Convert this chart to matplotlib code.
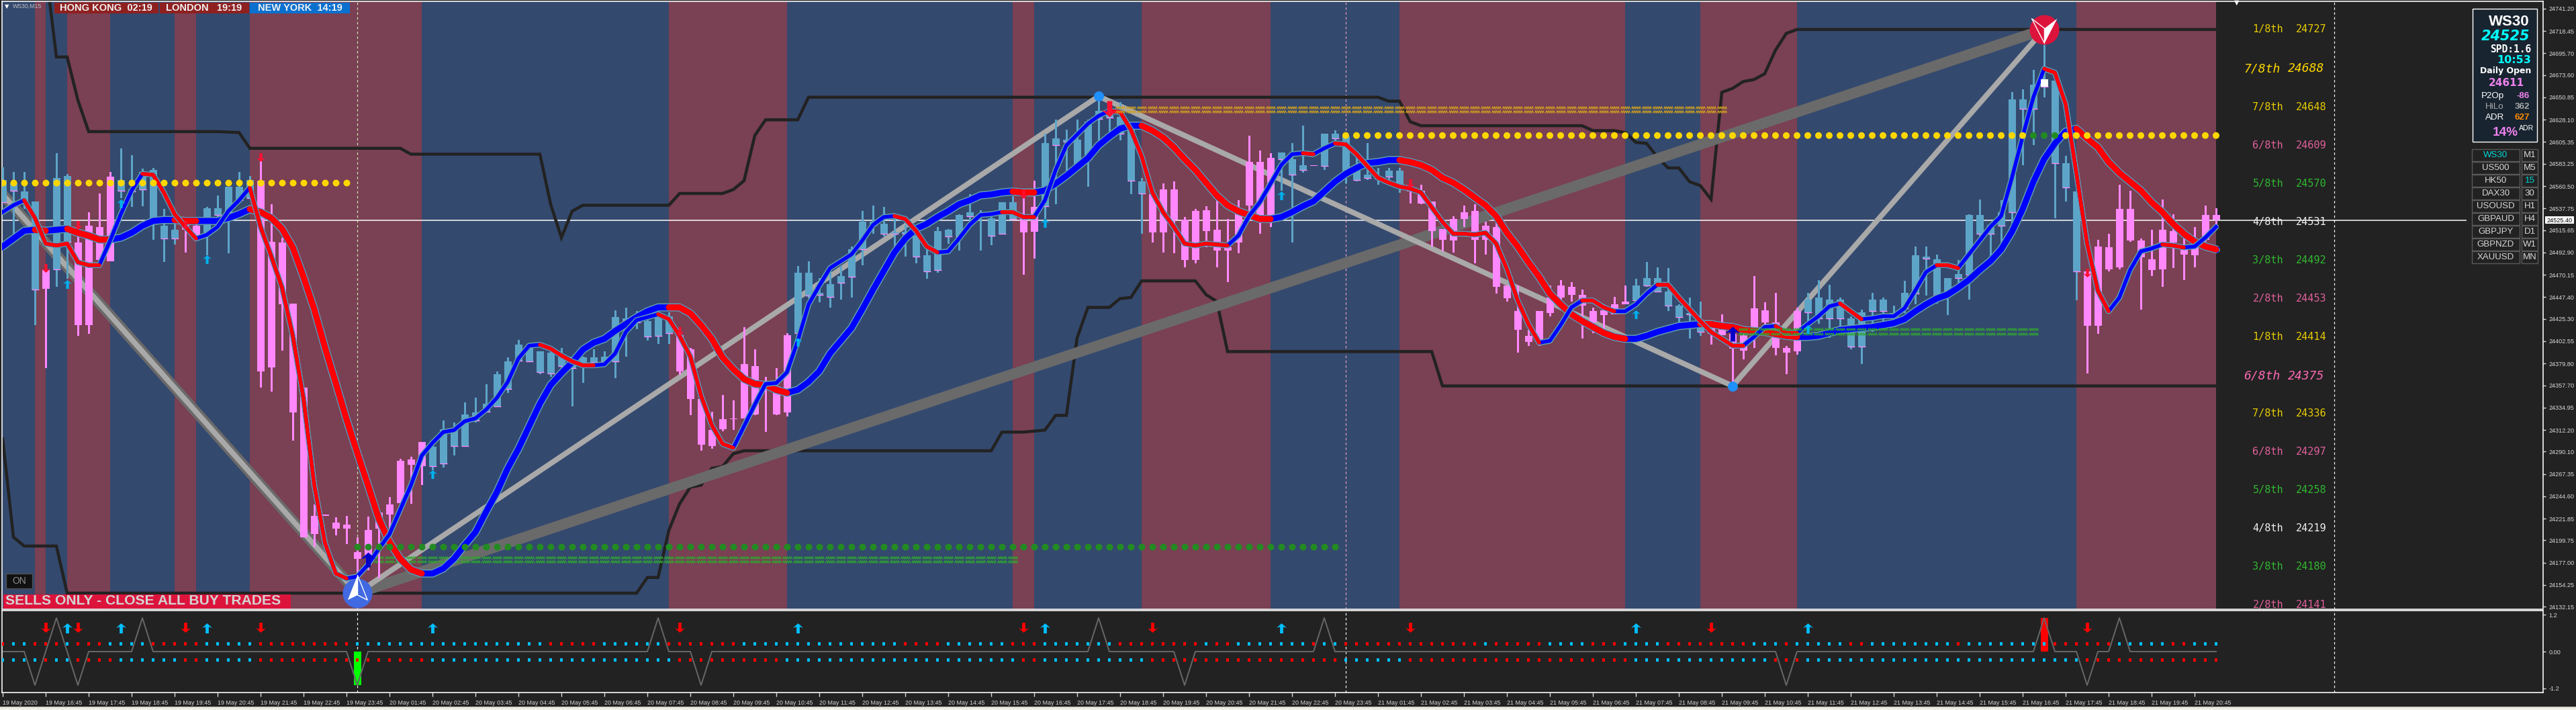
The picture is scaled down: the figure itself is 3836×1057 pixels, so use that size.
"""
WS30 M15 terminal screenshot rebuilt with matplotlib
Main pane: sessions, candles, MAs, zigzags, Murray levels. Sub pane: signal dots and zigzag
"""
import matplotlib
matplotlib.use('Agg')
import numpy as np
import matplotlib.pyplot as plt
from matplotlib.patches import Rectangle
from matplotlib.path import Path

#? Candles, one value per bar
candle_high = [
    24580, 24575, 24575, 24545, 24481, 24594, 24573, 24519, 24534, 24553,
    24575, 24599, 24592, 24578, 24579, 24537, 24523, 24523, 24521, 24539,
    24551, 24560, 24575, 24571, 24588, 24542, 24508, 24441, 24355, 24236,
    24226, 24223, 24225, 24203, 24224, 24229, 24244, 24283, 24285, 24300,
    24296, 24322, 24320, 24340, 24345, 24359, 24372, 24386, 24404, 24396,
    24392, 24397, 24396, 24387, 24387, 24394, 24392, 24434, 24437, 24433,
    24426, 24430, 24432, 24415, 24396, 24344, 24331, 24348, 24342, 24417,
    24394, 24366, 24375, 24411, 24479, 24484, 24467, 24480, 24479, 24499,
    24535, 24541, 24539, 24528, 24521, 24510, 24498, 24519, 24517, 24532,
    24552, 24536, 24529, 24544, 24550, 24551, 24566, 24614, 24628, 24618,
    24628, 24628, 24648, 24637, 24646, 24625, 24569, 24554, 24563, 24565,
    24529, 24537, 24540, 24554, 24527, 24546, 24612, 24597, 24594, 24595,
    24604, 24622, 24582, 24614, 24617, 24614, 24591, 24604, 24579, 24579,
    24579, 24566, 24562, 24545, 24517, 24530, 24541, 24542, 24524, 24523,
    24459, 24459, 24414, 24433, 24459, 24465, 24463, 24455, 24437, 24440,
    24448, 24459, 24466, 24483, 24478, 24477, 24440, 24447, 24443, 24422,
    24430, 24417, 24413, 24469, 24442, 24452, 24398, 24437, 24452, 24465,
    24460, 24447, 24428, 24435, 24452, 24447, 24439, 24464, 24499, 24499,
    24491, 24467, 24485, 24532, 24547, 24521, 24546, 24656, 24659, 24679,
    24719, 24668, 24591, 24555, 24474, 24506, 24512, 24562, 24556, 24507,
    24516, 24547, 24532, 24511, 24519, 24541, 24538]
candle_low = [
    24544, 24511, 24537, 24419, 24375, 24458, 24466, 24408, 24410, 24485,
    24484, 24548, 24539, 24540, 24506, 24483, 24501, 24493, 24510, 24490,
    24528, 24492, 24546, 24548, 24355, 24351, 24393, 24301, 24203, 24193,
    24225, 24205, 24196, 24160, 24169, 24161, 24208, 24238, 24237, 24256,
    24271, 24274, 24286, 24295, 24320, 24331, 24336, 24350, 24381, 24382,
    24369, 24366, 24375, 24336, 24360, 24377, 24377, 24365, 24387, 24415,
    24403, 24400, 24400, 24368, 24327, 24291, 24293, 24311, 24312, 24324,
    24327, 24310, 24327, 24326, 24408, 24446, 24442, 24437, 24445, 24447,
    24480, 24512, 24509, 24499, 24489, 24482, 24466, 24472, 24502, 24495,
    24520, 24495, 24500, 24512, 24527, 24470, 24487, 24527, 24542, 24576,
    24581, 24560, 24604, 24613, 24607, 24552, 24512, 24503, 24493, 24492,
    24478, 24482, 24498, 24478, 24463, 24492, 24535, 24512, 24519, 24556,
    24503, 24574, 24581, 24577, 24602, 24563, 24565, 24567, 24562, 24567,
    24554, 24543, 24542, 24499, 24494, 24493, 24519, 24482, 24491, 24451,
    24443, 24391, 24398, 24398, 24428, 24443, 24443, 24405, 24411, 24407,
    24430, 24440, 24439, 24458, 24453, 24433, 24422, 24405, 24408, 24399,
    24409, 24357, 24384, 24396, 24417, 24388, 24369, 24389, 24418, 24420,
    24406, 24417, 24394, 24379, 24412, 24417, 24417, 24431, 24440, 24449,
    24441, 24429, 24461, 24445, 24505, 24489, 24498, 24517, 24582, 24602,
    24651, 24528, 24545, 24444, 24370, 24410, 24474, 24476, 24504, 24435,
    24469, 24458, 24477, 24465, 24478, 24504, 24519]
candle_open = [
    24544, 24556, 24543, 24455, 24475, 24476, 24504, 24503, 24520, 24519,
    24570, 24556, 24555, 24557, 24527, 24507, 24507, 24522, 24520, 24511,
    24531, 24530, 24546, 24548, 24566, 24504, 24503, 24441, 24355, 24225,
    24226, 24218, 24216, 24188, 24210, 24228, 24236, 24281, 24282, 24300,
    24275, 24278, 24296, 24296, 24322, 24331, 24336, 24354, 24383, 24382,
    24371, 24370, 24377, 24375, 24377, 24381, 24382, 24382, 24424, 24422,
    24407, 24408, 24411, 24409, 24394, 24344, 24312, 24323, 24324, 24379,
    24377, 24360, 24357, 24409, 24411, 24449, 24450, 24448, 24462, 24468,
    24496, 24521, 24512, 24512, 24512, 24489, 24474, 24475, 24509, 24509,
    24530, 24531, 24510, 24512, 24527, 24527, 24539, 24540, 24602, 24606,
    24581, 24588, 24629, 24630, 24614, 24566, 24553, 24552, 24557, 24557,
    24526, 24535, 24536, 24516, 24498, 24534, 24585, 24585, 24589, 24588,
    24572, 24577, 24582, 24581, 24609, 24574, 24567, 24569, 24568, 24570,
    24559, 24556, 24556, 24545, 24517, 24527, 24534, 24535, 24520, 24519,
    24459, 24433, 24408, 24433, 24447, 24459, 24458, 24450, 24433, 24434,
    24440, 24443, 24444, 24459, 24453, 24439, 24427, 24430, 24412, 24417,
    24417, 24410, 24409, 24436, 24434, 24422, 24396, 24433, 24432, 24426,
    24426, 24426, 24397, 24397, 24433, 24433, 24428, 24436, 24451, 24487,
    24450, 24451, 24467, 24470, 24512, 24512, 24520, 24534, 24639, 24639,
    24662, 24584, 24559, 24474, 24474, 24499, 24498, 24537, 24537, 24505,
    24486, 24516, 24515, 24500, 24500, 24531, 24531]
candle_close = [
    24567, 24563, 24555, 24545, 24456, 24569, 24571, 24419, 24419, 24485,
    24484, 24567, 24557, 24575, 24577, 24520, 24516, 24516, 24510, 24538,
    24538, 24560, 24560, 24567, 24372, 24376, 24440, 24330, 24203, 24206,
    24225, 24212, 24212, 24181, 24184, 24212, 24226, 24238, 24277, 24275,
    24295, 24313, 24313, 24328, 24330, 24339, 24369, 24382, 24399, 24396,
    24392, 24391, 24387, 24387, 24386, 24386, 24387, 24427, 24426, 24423,
    24423, 24427, 24428, 24372, 24344, 24297, 24296, 24313, 24323, 24324,
    24328, 24357, 24328, 24330, 24472, 24472, 24452, 24461, 24469, 24496,
    24524, 24524, 24522, 24513, 24514, 24510, 24490, 24515, 24516, 24531,
    24534, 24532, 24528, 24544, 24544, 24513, 24514, 24604, 24609, 24608,
    24608, 24626, 24637, 24634, 24631, 24623, 24565, 24513, 24513, 24526,
    24485, 24485, 24515, 24495, 24495, 24503, 24541, 24530, 24525, 24595,
    24588, 24582, 24581, 24614, 24614, 24611, 24579, 24572, 24569, 24576,
    24576, 24555, 24543, 24515, 24506, 24505, 24527, 24506, 24506, 24458,
    24446, 24414, 24402, 24402, 24431, 24447, 24450, 24439, 24422, 24429,
    24430, 24440, 24459, 24467, 24467, 24453, 24439, 24431, 24420, 24410,
    24409, 24395, 24393, 24416, 24422, 24396, 24391, 24392, 24445, 24447,
    24445, 24445, 24426, 24432, 24445, 24445, 24431, 24452, 24490, 24489,
    24486, 24467, 24471, 24531, 24531, 24521, 24534, 24649, 24649, 24664,
    24669, 24668, 24584, 24555, 24418, 24418, 24476, 24478, 24505, 24488,
    24475, 24476, 24503, 24491, 24490, 24506, 24526]

#? Moving averages, one value per bar
fast_ma = [
    24534, 24541, 24546, 24528, 24502, 24500, 24502, 24483, 24480, 24480,
    24505, 24532, 24556, 24573, 24572, 24554, 24532, 24519, 24507, 24511,
    24519, 24535, 24546, 24559, 24519, 24489, 24457, 24408, 24344, 24256,
    24197, 24166, 24161, 24163, 24175, 24191, 24206, 24231, 24256, 24286,
    24299, 24310, 24312, 24321, 24324, 24333, 24345, 24361, 24385, 24398,
    24399, 24395, 24388, 24382, 24378, 24378, 24379, 24390, 24412, 24424,
    24427, 24430, 24425, 24408, 24387, 24347, 24317, 24298, 24294, 24316,
    24338, 24359, 24360, 24371, 24403, 24440, 24459, 24477, 24484, 24491,
    24505, 24521, 24529, 24530, 24527, 24515, 24499, 24493, 24494, 24507,
    24521, 24531, 24532, 24534, 24534, 24529, 24529, 24546, 24577, 24602,
    24613, 24624, 24632, 24637, 24636, 24618, 24591, 24554, 24534, 24519,
    24502, 24500, 24502, 24501, 24500, 24510, 24530, 24544, 24563, 24582,
    24593, 24594, 24593, 24599, 24604, 24603, 24593, 24581, 24569, 24564,
    24560, 24558, 24554, 24539, 24524, 24512, 24512, 24511, 24513, 24502,
    24476, 24444, 24420, 24401, 24403, 24419, 24437, 24444, 24444, 24437,
    24433, 24433, 24440, 24451, 24460, 24460, 24447, 24435, 24423, 24412,
    24405, 24398, 24398, 24407, 24417, 24418, 24411, 24411, 24420, 24428,
    24438, 24441, 24433, 24425, 24426, 24428, 24428, 24436, 24454, 24473,
    24480, 24480, 24477, 24491, 24505, 24519, 24530, 24569, 24611, 24651,
    24680, 24676, 24644, 24574, 24502, 24454, 24433, 24447, 24475, 24494,
    24497, 24501, 24500, 24498, 24499, 24508, 24519]
slow_ma = [
    24499, 24507, 24515, 24516, 24515, 24516, 24517, 24513, 24510, 24506,
    24506, 24508, 24513, 24520, 24525, 24526, 24526, 24525, 24525, 24525,
    24525, 24528, 24532, 24537, 24534, 24528, 24517, 24498, 24468, 24435,
    24396, 24360, 24323, 24289, 24256, 24222, 24198, 24181, 24170, 24166,
    24166, 24171, 24181, 24195, 24208, 24229, 24249, 24273, 24293, 24316,
    24339, 24358, 24370, 24381, 24394, 24401, 24405, 24413, 24420, 24427,
    24433, 24437, 24437, 24437, 24431, 24419, 24405, 24386, 24374, 24364,
    24359, 24358, 24353, 24350, 24353, 24361, 24372, 24390, 24403, 24416,
    24435, 24455, 24474, 24493, 24507, 24517, 24522, 24529, 24535, 24542,
    24546, 24551, 24552, 24554, 24555, 24554, 24554, 24556, 24563, 24571,
    24580, 24589, 24602, 24611, 24619, 24622, 24622, 24617, 24610, 24600,
    24588, 24577, 24564, 24551, 24541, 24535, 24531, 24527, 24527, 24529,
    24534, 24540, 24545, 24555, 24565, 24573, 24579, 24584, 24585, 24587,
    24587, 24585, 24582, 24577, 24569, 24564, 24557, 24549, 24541, 24530,
    24513, 24499, 24483, 24468, 24451, 24440, 24430, 24423, 24417, 24411,
    24407, 24405, 24405, 24408, 24412, 24415, 24418, 24419, 24420, 24420,
    24418, 24417, 24414, 24413, 24412, 24410, 24408, 24407, 24407, 24408,
    24411, 24414, 24415, 24416, 24417, 24419, 24421, 24425, 24433, 24440,
    24446, 24450, 24457, 24465, 24475, 24484, 24496, 24514, 24537, 24565,
    24588, 24604, 24616, 24619, 24609, 24600, 24585, 24574, 24565, 24556,
    24544, 24534, 24522, 24512, 24504, 24499, 24496]

# stretches (first bar, last bar) drawn red, the rest of each line is blue
session_red = [(3, 4), (6, 10), (16, 18), (23, 39), (62, 73), (94, 96), (106, 118),
               (130, 151), (158, 167), (193, 206)]
fast_red = [(2, 9), (13, 18), (23, 32), (50, 55), (61, 68), (83, 87), (93, 96), (103, 114),
            (121, 122), (124, 143), (147, 150), (154, 162), (165, 167), (171, 173),
            (180, 182), (190, 196), (201, 203)]

#? Channel lines, only the bars where they bend
upper_x = [4, 5, 6, 7, 8, 20, 22, 23, 37, 38, 50, 51, 52, 53, 54, 62, 63, 67, 68, 69, 70, 71, 74, 75,
           128, 129, 130, 131, 132, 147, 148, 150, 151, 152, 153, 154, 155, 156, 157, 158, 159,
           160, 161, 162, 163, 164, 165, 166, 167, 206]
upper_y = [24782, 24692, 24692, 24648, 24616, 24616, 24615, 24599, 24599, 24593, 24593, 24542, 24508,
           24535, 24541, 24541, 24553, 24553, 24557, 24566, 24612, 24628, 24628, 24651,
           24651, 24647, 24647, 24626, 24622, 24622, 24617, 24617, 24615, 24605, 24604, 24590, 24579,
           24579, 24565, 24561, 24547, 24656, 24660, 24667, 24669, 24675, 24699, 24716, 24720, 24720]
lower_x = [0, 1, 2, 5, 6, 59, 60, 61, 62, 63, 64, 65, 66, 67, 68, 69, 92, 93, 95, 96, 97, 98, 99, 100,
           101, 103, 104, 105, 106, 111, 112, 113, 114, 133, 134, 206]
lower_y = [24303, 24203, 24194, 24194, 24146, 24146, 24162, 24162, 24210, 24237, 24254, 24256, 24273,
           24275, 24288, 24291, 24291, 24310, 24310, 24311, 24312, 24327, 24327, 24406,
           24437, 24437, 24446, 24447, 24464, 24464, 24450, 24443, 24392, 24392, 24357, 24357]

#? Zigzags
big_zz_x = [0, 33, 190]
big_zz_y = [24552, 24146, 24720]
small_zz_x = [0, 33, 102, 161, 190]
small_zz_y = [24552, 24146, 24652, 24357, 24720]

#? Signal arrows on the candles
up_x = [6, 11, 19, 40, 74, 97, 119, 152, 168]
up_y = [24461, 24543, 24486, 24267, 24402, 24523, 24551, 24430, 24415]
down_x = [4, 7, 17, 24, 63, 95, 131, 194]
down_y = [24477, 24521, 24521, 24590, 24413, 24552, 24563, 24472]
big_up_x = [34, 161]
big_up_y = [24180, 24410]
big_down_x = [103]
big_down_y = [24639]

#? Dotted pivots and wavy levels
yellow_level_1 = 24564
yellow_level_2 = 24612
green_level = 24193
orange_waves = [24640.5, 24636.5]
green_waves_1 = [24182.5, 24178]
green_waves_2 = [24414.5, 24410]
current_price = 24525.40

#? Murray levels, right side of the chart
murray_value = [24727, 24688, 24648, 24609, 24570, 24531, 24492, 24453,
                24414, 24375, 24336, 24297, 24258, 24219, 24180, 24141]
murray_name = ['1/8th', '7/8th', '7/8th', '6/8th', '5/8th', '4/8th', '3/8th', '2/8th',
               '1/8th', '6/8th', '7/8th', '6/8th', '5/8th', '4/8th', '3/8th', '2/8th']
murray_color = ['#e8cc00', '#ffd700', '#e8cc00', '#e0609c', '#30b830', '#f0f0f0', '#30b830', '#e0609c',
                '#e8cc00', '#ff69b4', '#e8cc00', '#e0609c', '#30b830', '#f0f0f0', '#30b830', '#e0609c']

#? Axis labels
price_ticks = [24741.20, 24718.45, 24695.70, 24673.60, 24650.85, 24628.10, 24605.35, 24583.25,
               24560.50, 24537.75, 24515.65, 24492.90, 24470.15, 24447.40, 24425.30, 24402.55,
               24379.80, 24357.70, 24334.95, 24312.20, 24290.10, 24267.35, 24244.60, 24221.85,
               24199.75, 24177.00, 24154.25, 24132.15]
time_labels = (['19 May 2020'] + [f'19 May {h}:45' for h in range(16, 24)]
               + [f'20 May {h:02d}:45' for h in range(1, 24)]
               + [f'21 May {h:02d}:45' for h in range(1, 21)])
day_separators = [33, 125, 217]
separator_colors = ['#c8f0b0', '#e8a0c0', '#ffffff']

#? Sub window
top_dot_red = [(0, 0), (3, 5), (7, 9), (14, 18), (24, 32), (51, 55), (62, 68), (84, 87), (94, 96),
               (104, 111), (113, 114), (122, 122), (125, 137), (139, 143), (148, 150), (155, 162),
               (166, 166), (172, 173), (182, 182), (191, 196), (202, 203)]
low_dot_red = [(4, 4), (7, 10), (17, 18), (24, 39), (63, 72), (95, 96), (107, 124), (131, 151),
               (165, 167), (194, 206)]
top_dot_level = 0.26
low_dot_level = -0.27
sub_zz_x = [0, 2, 3, 5, 7, 8, 12, 13, 14, 32, 33, 34, 60, 61, 62, 64, 65, 66, 101, 102, 103, 109, 110, 111,
            122, 123, 124, 165, 166, 167, 189, 190, 191, 193, 194, 195, 196, 197, 198, 206]
sub_zz_y = [0, 0, -1.1, 1.1, -1.1, 0, 0, 1.1, 0, 0, -1.1, 0, 0, 1.1, 0, 0, -1.1, 0, 0, 1.1, 0, 0, -1.1, 0,
            0, 1.1, 0, 0, -1.1, 0, 0, 1.1, 0, 0, -1.1, 0, 0, 1.1, 0, 0]
sub_down = [4, 7, 17, 24, 63, 95, 107, 131, 159, 194]
sub_up = [6, 11, 19, 40, 74, 97, 119, 152, 168]
sub_arrow_level = 0.8
sub_hist_x = [33, 190]
sub_hist_y = [-1.1, 1.1]

#? Some set up
W, H = 3837, 1057
BG = '#222222'
BLUE_BAND = '#34496e'
RED_BAND = '#7a4053'
CANDLE_UP = '#5da5c8'
CANDLE_DOWN = '#ff88ff'
OUTLINE = '#5f9eb0'
SANS = ['Liberation Sans', 'DejaVu Sans']
plt.rcParams['font.family'] = SANS


def px(n):
    # pixels to points, figure is saved at dpi=100
    return n * 0.72


def fig_xy(x, y):
    return x / W, 1 - y / H


def box(x0, y0, x1, y1, fc, ec='none', lw=0.0, z=10):
    fig.add_artist(Rectangle(fig_xy(x0, y1), (x1 - x0) / W, (y1 - y0) / H, transform=fig.transFigure,
                             facecolor=fc, edgecolor=ec, linewidth=lw, zorder=z))


def label(x, y, text, color='white', size=10, ha='center', weight='normal', family=None, style='normal'):
    fig.text(x / W, 1 - y / H, text, color=color, fontsize=size, ha=ha, va='center', weight=weight,
             family=family if family else SANS, style=style, zorder=12)


def draw_ma(x, y, red_runs, width, edge, z):
    ax.plot(x, y, color=OUTLINE, lw=px(edge), zorder=z, solid_joinstyle='round', solid_capstyle='round')
    ax.plot(x, y, color='#0000ff', lw=px(width), zorder=z + 0.1, solid_joinstyle='round')
    for a, b in red_runs:
        ax.plot(x[a:b + 1], y[a:b + 1], color='#ff0000', lw=px(width), zorder=z + 0.2,
                solid_joinstyle='round', solid_capstyle='round')


#? Marker shapes
up_arrow = Path([(-1, 0.1), (0, 1), (1, 0.1), (0.32, 0.3), (0.32, -1), (-0.32, -1), (-0.32, 0.3), (-1, 0.1)],
                closed=True)
down_arrow = Path(up_arrow.vertices * [1, -1], closed=True)
wave = Path([(-1, -0.27), (-0.8, 0.27), (-0.6, -0.27), (-0.4, 0.27), (-0.2, -0.27), (0, 0.27),
             (0.2, -0.27), (0.4, 0.27), (0.6, -0.27), (0.8, 0.27), (1, -0.27)])
buy_left = Path([(0, 1), (-0.7, -0.75), (0, -0.4), (0, 1)], closed=True)
buy_right = Path([(0, 1), (0.7, -0.75), (0, -0.4), (0, 1)], closed=True)
sell_right = Path([(0, -0.9), (0, 0.1), (0.85, 0.75), (0, -0.9)], closed=True)
sell_left = Path([(0, -0.9), (0, 0.1), (-0.85, 0.75), (0, -0.9)], closed=True)

bars = np.arange(len(candle_high))
fast = np.array(fast_ma, dtype=float)
slow = np.array(slow_ma, dtype=float)
o = np.array(candle_open, dtype=float)
c = np.array(candle_close, dtype=float)
hi = np.array(candle_high, dtype=float)
lo = np.array(candle_low, dtype=float)
bull = c > o

fig = plt.figure(figsize=(W / 100, H / 100), dpi=100, facecolor=BG)
left, right = 3.5, 3787
ax = fig.add_axes([left / W, 1 - 906.5 / H, (right - left) / W, (906.5 - 2) / H], facecolor=BG)
ax_sub = fig.add_axes([left / W, 1 - 1031 / H, (right - left) / W, (1031 - 909) / H], facecolor=BG)

#? Main window
xlim = ((left - 4) / 16, (right - 4) / 16)
ax.set_xlim(xlim)
ax.set_ylim(24750 - 0.684 * 906.5, 24750 - 0.684 * 2)

ax.axvspan(-1, 206, color=BLUE_BAND, lw=0, zorder=0)
for a, b in session_red:
    ax.axvspan(a, b, color=RED_BAND, lw=0, zorder=0.1)

ax.hlines(current_price, xlim[0], 229.3, color='white', lw=px(1.5), zorder=1)
for d, col in zip(day_separators, separator_colors):
    ax.axvline(d, color=col, lw=px(1.2), ls=(0, (3, 3)), zorder=1)

ax.plot(upper_x, upper_y, color=BG, lw=px(4.5), zorder=2, solid_joinstyle='miter')
ax.plot(lower_x, lower_y, color=BG, lw=px(4.5), zorder=2, solid_joinstyle='miter')
ax.plot(big_zz_x, big_zz_y, color='#6a6a6a', lw=px(16), zorder=2.2)
ax.plot(small_zz_x, small_zz_y, color='#a9a9a9', lw=px(8), zorder=2.3)

#? Candles
colors = [CANDLE_UP if b else CANDLE_DOWN for b in bull]
ax.bar(bars, hi - lo, bottom=lo, width=3 / 16, color=colors, lw=0, zorder=3)
ax.bar(bars, np.maximum(np.abs(c - o), 0.8), bottom=np.minimum(o, c), width=11 / 16, color=colors, lw=0, zorder=3.1)
ax.hlines(o[bull], bars[bull] - 5.5 / 16, bars[bull] + 5.5 / 16, color=CANDLE_DOWN, lw=px(1.3), zorder=3.2)

draw_ma(bars, slow, session_red, 9, 12, 4)
draw_ma(bars, fast, fast_red, 5.5, 8.5, 4.5)

#? Pivot dots and waves
ax.plot(bars[0:33], [yellow_level_1] * 33, ls='none', marker='o', ms=px(10), color='#ffd700', zorder=5, mew=0)
top_x = bars[125:207]
top_col = ['#228b22' if 189 <= b <= 191 else '#ffd700' for b in top_x]
ax.scatter(top_x, [yellow_level_2] * len(top_x), s=px(10) ** 2, c=top_col, lw=0, zorder=5)
ax.plot(bars[33:125], [green_level] * 92, ls='none', marker='o', ms=px(10), color='#228b22', zorder=5, mew=0)
for lev in orange_waves:
    ax.plot(bars[104:161], [lev] * 57, ls='none', marker=wave, ms=px(14), mfc='none', mec='#d0a020',
            mew=0.8, zorder=5)
for lev in green_waves_1:
    ax.plot(bars[35:95], [lev] * 60, ls='none', marker=wave, ms=px(14), mfc='none', mec='#2fa82f',
            mew=0.8, zorder=2.5)
for lev in green_waves_2:
    ax.plot(bars[162:190], [lev] * 28, ls='none', marker=wave, ms=px(14), mfc='none', mec='#2fa82f',
            mew=0.8, zorder=5)

#? Arrows and points on the chart
ax.plot(up_x, up_y, ls='none', marker=up_arrow, ms=px(13), color='#00b0ee', mew=0, zorder=6)
ax.plot(down_x, down_y, ls='none', marker=down_arrow, ms=px(13), color='#ff1030', mew=0, zorder=6)
ax.plot(big_up_x, big_up_y, ls='none', marker=up_arrow, ms=px(22), color='#0000c8', mew=0, zorder=6)
ax.plot(big_down_x, big_down_y, ls='none', marker=down_arrow, ms=px(24), color='#ff1030', mew=0, zorder=6)
ax.plot(small_zz_x[2:4], small_zz_y[2:4], ls='none', marker='o', ms=px(15), color='#1e90ff', mew=0, zorder=6)
ax.plot(190, 24666, ls='none', marker='s', ms=px(11), color='white', mew=0, zorder=6)

ax.plot(33, 24146, ls='none', marker='o', ms=px(44), color='#4169e1', mew=0, zorder=7)
ax.plot(33, 24150, ls='none', marker=buy_left, ms=px(42), color='white', mew=0, zorder=7.1)
ax.plot(33, 24150, ls='none', marker=buy_right, ms=px(42), mfc='#4169e1', mec='white', mew=1, zorder=7.1)
ax.plot(190, 24720, ls='none', marker='o', ms=px(44), color='#dc143c', mew=0, zorder=7)
ax.plot(190, 24720, ls='none', marker=sell_right, ms=px(40), color='white', mew=0, zorder=7.1)
ax.plot(190, 24720, ls='none', marker=sell_left, ms=px(40), mfc='#dc143c', mec='white', mew=1, zorder=7.1)

#? Murray labels
for val, name, col in zip(murray_value, murray_name, murray_color):
    mono = 'DejaVu Sans Mono'
    if val in (24688, 24375):
        ax.text(208.6, val - 8, name, color=col, fontsize=13, family=mono, style='italic', va='center', zorder=8)
        ax.text(212.7, val - 8, str(val), color=col, fontsize=13, family=mono, style='italic', va='center', zorder=8)
    else:
        ax.text(209.4, val - 7, name, color=col, fontsize=11, family=mono, va='center', zorder=8)
        ax.text(213.4, val - 7, str(val), color=col, fontsize=11, family=mono, va='center', zorder=8)

ax.set_yticks(price_ticks)
ax.set_yticklabels([f'{t:.2f}' for t in price_ticks])
ax.yaxis.tick_right()
ax.tick_params(axis='y', colors='#d8d8d8', labelsize=6.6, length=3, width=1, pad=3)
ax.set_xticks([])

#? Sub window
ax_sub.set_xlim(xlim)
ax_sub.set_ylim(-61 / 45.5, 61 / 45.5)
ax_sub.bar(sub_hist_x[0], sub_hist_y[0], width=11 / 16, color='#00ff00', lw=0, zorder=2)
ax_sub.bar(sub_hist_x[1], sub_hist_y[1], width=11 / 16, color='#ff0000', lw=0, zorder=2)
ax_sub.plot(sub_zz_x, sub_zz_y, color='#666666', lw=px(2), zorder=2.5)

top_colors = np.full(len(bars), '#00bfff', dtype=object)
low_colors = np.full(len(bars), '#00bfff', dtype=object)
for a, b in top_dot_red:
    top_colors[a:b + 1] = '#ff0000'
for a, b in low_dot_red:
    low_colors[a:b + 1] = '#ff0000'
ax_sub.scatter(bars, [top_dot_level] * len(bars), s=px(4.8) ** 2, c=list(top_colors), marker='s', lw=0, zorder=3)
ax_sub.scatter(bars, [low_dot_level] * len(bars), s=px(4.8) ** 2, c=list(low_colors), marker='s', lw=0, zorder=3)
ax_sub.plot(sub_down, [sub_arrow_level] * len(sub_down), ls='none', marker=down_arrow, ms=px(15),
            color='#ff0000', mew=0, zorder=4)
ax_sub.plot(sub_up, [sub_arrow_level - 0.03] * len(sub_up), ls='none', marker=up_arrow, ms=px(15),
            color='#00bfff', mew=0, zorder=4)
for d in day_separators:
    ax_sub.axvline(d, color='white', lw=px(1.2), ls=(0, (3, 3)), zorder=1)

ax_sub.set_yticks([1.2, 0, -1.2])
ax_sub.set_yticklabels(['1.2', '0.00', '-1.2'])
ax_sub.yaxis.tick_right()
ax_sub.tick_params(axis='y', colors='#d8d8d8', labelsize=6.6, length=3, width=1, pad=3)
ax_sub.set_xticks(np.arange(len(time_labels)) * 4)
ax_sub.set_xticklabels(time_labels, ha='left')
ax_sub.tick_params(axis='x', colors='#d8d8d8', labelsize=6.4, length=4, width=1, pad=4)

for a_ in (ax, ax_sub):
    for s in a_.spines.values():
        s.set_color('white')
        s.set_linewidth(px(1.6))

#? Bottom window border
box(0, 1052, W, 1054, '#d8d8d0')
box(0, 1054, W, 1057, '#efefe8')

#? Session panels on top left
label(10.5, 10, '▼', color='white', size=6, family=['DejaVu Sans'])
label(19, 9.5, 'WS30,M15', color='#c0c0c0', size=6.3, ha='left')
box(81, 4, 236, 20, '#8f2020')
box(238, 4, 370.5, 20, '#8f2020')
box(372, 4, 521, 20, '#0a70d0')
label(158, 12, 'HONG KONG  02:19', color='#f0f0f0', size=10.5, weight='bold')
label(304, 12, 'LONDON   19:19', color='#f0f0f0', size=10.5, weight='bold')
label(447, 12, 'NEW YORK  14:19', color='#f0f0f0', size=10.5, weight='bold')

#? ON button and banner
box(9, 854, 48, 876, '#111111', ec='#505050', lw=1)
label(28.5, 865, 'ON', color='#909090', size=10)
box(4.5, 884.5, 433, 905.5, '#dc143c')
label(8, 895, 'SELLS ONLY - CLOSE ALL BUY TRADES', color='#d3d3d3', size=15.2, ha='left', weight='bold')

#? Small marker at top of the Murray column
label(3330.5, 4, '▼', color='white', size=7, family=['DejaVu Sans'])

#? Price tag
box(3790, 322.5, 3833, 333, 'white')
label(3811.5, 328, '24525.40', color='black', size=6.6)

#? Info panel
box(3682.5, 12.5, 3778, 210.5, '#182430', ec='white', lw=1)
label(3767, 32, 'WS30', size=16, ha='right', weight='bold')
label(3767, 54, '24525', color='#00ffff', size=15, ha='right', weight='bold', family=['DejaVu Sans'], style='italic')
label(3769, 73, 'SPD:1.6', size=10.5, ha='right', weight='bold', family=['DejaVu Sans Mono'])
label(3769, 89, '10:53', color='#00ffff', size=11.5, ha='right', weight='bold', family=['DejaVu Sans'])
label(3769, 105, 'Daily Open', size=9, ha='right', weight='bold', family=['DejaVu Sans'])
label(3759, 123, '24611', color='#ee82ee', size=11, ha='right', weight='bold', family=['DejaVu Sans'])
label(3729, 143, 'P2Op', size=9.6, ha='right')
label(3767, 143, '-86', color='#ee82ee', size=9.6, ha='right', weight='bold')
label(3729, 159, 'HiLo', color='#a9a9a9', size=9.6, ha='right')
label(3767, 159, '362', color='#a9a9a9', size=9.6, ha='right', weight='bold')
label(3729, 175, 'ADR', size=9.6, ha='right')
label(3767, 175, '627', color='#ff8c00', size=9.6, ha='right', weight='bold')
label(3750, 197, '14%', color='#ee82ee', size=13.7, ha='right', weight='bold')
label(3773, 191, 'ADR', size=7.6, ha='right')

#? Symbol and period buttons
symbols = ['WS30', 'US500', 'HK50', 'DAX30', 'USOUSD', 'GBPAUD', 'GBPJPY', 'GBPNZD', 'XAUUSD']
periods = ['M1', 'M5', '15', '30', 'H1', 'H4', 'D1', 'W1', 'MN']
for n, (sym, per) in enumerate(zip(symbols, periods)):
    yc = 231 + n * 19
    box(3681, yc - 8.7, 3752, yc + 8.7, BG, ec='#5a5a5a', lw=1)
    box(3754.7, yc - 8.7, 3779, yc + 8.7, BG, ec='#5a5a5a', lw=1)
    label(3716.5, yc, sym, color='#00d8d8' if n == 0 else '#d8d8d8', size=9.5)
    label(3767, yc, per, color='#00d8d8' if n == 2 else '#d8d8d8', size=9.5)

fig.savefig('out.png', dpi=100, facecolor=BG)
